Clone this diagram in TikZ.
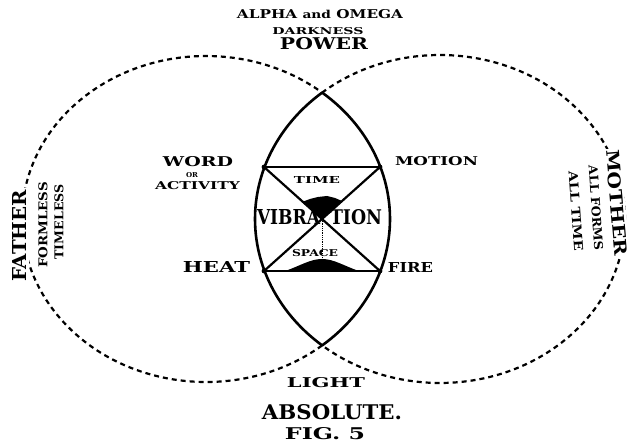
\documentclass[tikz,border=0pt]{standalone}
\usepackage{fontspec}
\setmainfont{DejaVu Serif}
\newcommand{\fitt}[3]{\resizebox{#1pt}{#2pt}{\bfseries #3}}
\begin{document}
\begin{tikzpicture}[x=1pt,y=-1pt,
  lbl/.style={inner sep=0pt, outer sep=0pt},
  onlinelbl/.style={inner sep=1.5pt, outer sep=0pt, fill=white},
  dashline/.style={line width=2.2pt, dash pattern=on 5pt off 4pt},
  solidarc/.style={line width=2.6pt},
  bar/.style={line width=2.2pt}]
\fill[white] (0,0) rectangle (633,446);
\useasboundingbox (0,0) rectangle (633,446);
% ellipse centres
\coordinate (lc) at (206,219);
\coordinate (rc) at (440,219);
% outer dashed parts
\draw[dashline] (lc) ++(50.92:184 and 163) arc[start angle=50.92, end angle=309.08, x radius=184, y radius=163];
\draw[dashline] (rc) ++(-129.63:185 and 164) arc[start angle=-129.63, end angle=129.63, x radius=185, y radius=164];
% vesica solid arcs
\draw[solidarc] (lc) ++(-50.92:184 and 163) arc[start angle=-50.92, end angle=50.92, x radius=184, y radius=163];
\draw[solidarc] (rc) ++(129.63:185 and 164) arc[start angle=129.63, end angle=230.37, x radius=185, y radius=164];
% hourglass
\coordinate (tl) at (264,167);
\coordinate (tr) at (380,167);
\coordinate (bl) at (264,271);
\coordinate (br) at (380,271);
\coordinate (cx) at (322,219);
\coordinate (pile) at (322,259);
\draw[bar] (tl) -- (tr);
\draw[bar] (bl) -- (br);
\draw[bar] (tl) -- (br);
\draw[bar] (tr) -- (bl);
\foreach \p in {tl,tr,bl,br} \fill (\p) circle (2.4);
% sand
\fill (302,202) -- (310,199) -- (318,197) -- (327,196) -- (335,198) -- (342,201) -- (cx) -- cycle;
\fill (285,271) .. controls (300,266) and (310,259) .. (pile) .. controls (334,259) and (344,266) .. (359,271) -- cycle;
\draw[densely dotted, line width=0.8pt] (cx) -- (pile);
% labels
\node[lbl] (alpha) at (320,14) {\fitt{166}{9}{ALPHA {\small and} OMEGA}};
\node[lbl] (dark) at (318,31) {\fitt{91}{7}{DARKNESS}};
\node[lbl] (power) at (324,44) {\fitt{88}{12}{POWER}};
\node[lbl] (word) at (198,162) {\fitt{70}{10}{WORD}};
\node[lbl] (or) at (192,175.5) {\fitt{12}{5}{OR}};
\node[lbl] (activity) at (197.5,186) {\fitt{85}{8}{ACTIVITY}};
\node[lbl] (motion) at (436.5,161) {\fitt{83}{9}{MOTION}};
\node[lbl] (time) at (317,180) {\fitt{46}{7}{TIME}};
\node[lbl] (vibra) at (288.5,217.5) {\fitt{63}{15}{VIBRA}};
\node[lbl] (tion) at (356,217.5) {\fitt{52}{15}{TION}};
\node[lbl] (space) at (315,253.5) {\fitt{46}{7}{SPACE}};
\node[lbl] (heat) at (216.5,267.5) {\fitt{67}{11}{HEAT}};
\node[lbl] (fire) at (410.5,268) {\fitt{45}{10}{FIRE}};
\node[lbl] (light) at (326,383) {\fitt{78}{10}{LIGHT}};
\node[lbl] (absolute) at (332,412.5) {\fitt{140}{15}{ABSOLUTE.}};
\node[lbl] (fig) at (325,434) {\fitt{80}{12}{FIG. 5}};
\node[onlinelbl, rotate=90] (father) at (20,236) {\fitt{92}{14}{FATHER}};
\node[lbl, rotate=90] (formless) at (43,225) {\fitt{86}{9}{FORMLESS}};
\node[lbl, rotate=90] (timeless) at (59,222) {\fitt{75}{9}{TIMELESS}};
\node[onlinelbl, rotate=-85] (mother) at (617,203) {\fitt{106}{13}{MOTHER}};
\node[lbl, rotate=-86] (allforms) at (596,208) {\fitt{85}{9}{ALL FORMS}};
\node[lbl, rotate=-86] (alltime) at (576,211) {\fitt{80}{9}{ALL TIME}};
\end{tikzpicture}
\end{document}
